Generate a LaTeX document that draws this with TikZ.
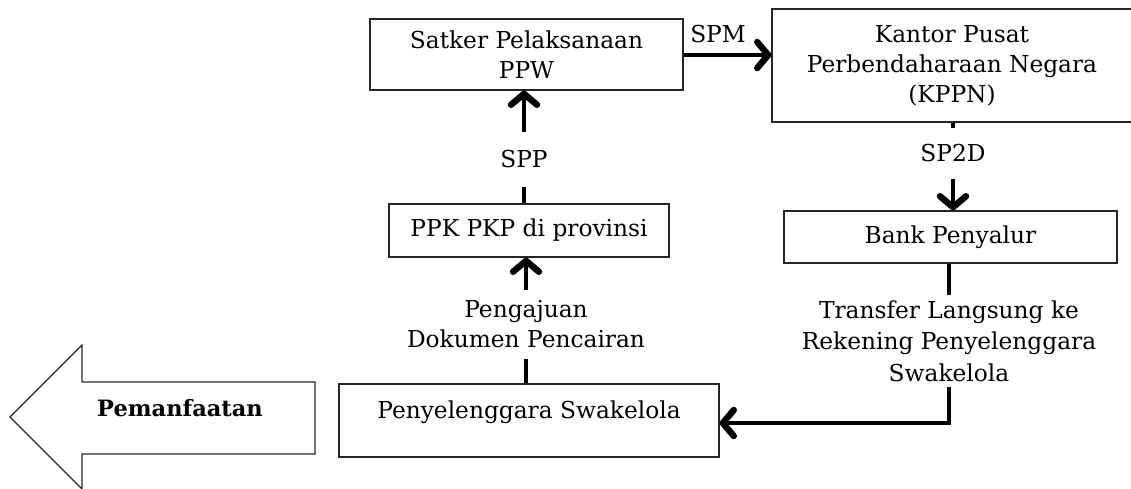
\documentclass[tikz,border=0pt]{standalone}
\usepackage{fontspec}
\setmainfont{DejaVu Serif}
\usetikzlibrary{arrows.meta}
\begin{document}
\begin{tikzpicture}[x=1pt,y=-1pt,
  font=\fontsize{23.3}{30}\selectfont,
  box/.style={draw=black!85,line width=1.2pt,align=center,inner sep=0pt},
  lbl/.style={align=center,inner sep=0pt},
  conn/.style={line width=4pt},
  arr/.style={line width=4pt,-{Straight Barb[length=11pt,width=26pt,line width=0pt 1.6,line cap=round,line join=round]}}]
\useasboundingbox (0,0) rectangle (1131,488);
\clip (0,0) rectangle (1131,488);
% boxes
\node[box,minimum width=313pt,minimum height=71pt] (satker) at (526.5,54.5) {Satker Pelaksanaan\\PPW};
\node[box,minimum width=360pt,minimum height=113pt] (kppn) at (952,65.5) {Kantor Pusat\\Perbendaharaan Negara\\(KPPN)};
\node[box,minimum width=280pt,minimum height=53pt] (ppk) at (529,230.5) {PPK PKP di provinsi};
\node[box,minimum width=333pt,minimum height=52pt] (bank) at (950.5,237) {Bank Penyalur};
\node[box,minimum width=380pt,minimum height=73pt,text height=16pt,text depth=21pt] (peny) at (529,420.5) {Penyelenggara Swakelola};
% big arrow
\draw[black!85,line width=1.2pt] (10,417) -- (82,345) -- (82,382) -- (315,382) -- (315,454) -- (82,454) -- (82,489) -- cycle;
\node[lbl,font=\fontsize{22.5}{30}\selectfont\bfseries] (pem) at (180,408) {Pemanfaatan};
% labels
\node[lbl,minimum height=69pt] (lpeng) at (526,324.5) {Pengajuan\\Dokumen Pencairan};
\node[lbl,minimum height=55pt] (lspp) at (524,159.5) {SPP};
\node[lbl] (lspm) at (718,34) {SPM};
\node[lbl,minimum height=51pt] (lsp2d) at (953,153.5) {SP2D};
\node[lbl,minimum height=92pt,font=\fontsize{23.3}{31.5}\selectfont] (ltrans) at (949,341) {Transfer Langsung ke\\Rekening Penyelenggara\\Swakelola};
\coordinate (corner) at (949,423);
% connectors
\draw[conn] (peny.north -| lpeng) -- (lpeng.south);
\draw[arr] (lpeng.north) -- (ppk.south -| lpeng);
\draw[conn] (ppk.north -| lspp) -- (lspp.south);
\draw[arr] (lspp.north) -- (satker.south -| lspp);
\draw[arr] (satker.east |- 0,55) -- (kppn.west |- 0,55);
\draw[conn] (kppn.south -| lsp2d) -- (lsp2d.north);
\draw[arr] (lsp2d.south) -- (bank.north -| lsp2d);
\draw[conn] (bank.south -| ltrans) -- (ltrans.north);
\draw[arr] (ltrans.south) -- (corner) -- (peny.east |- corner);
\end{tikzpicture}
\end{document}
